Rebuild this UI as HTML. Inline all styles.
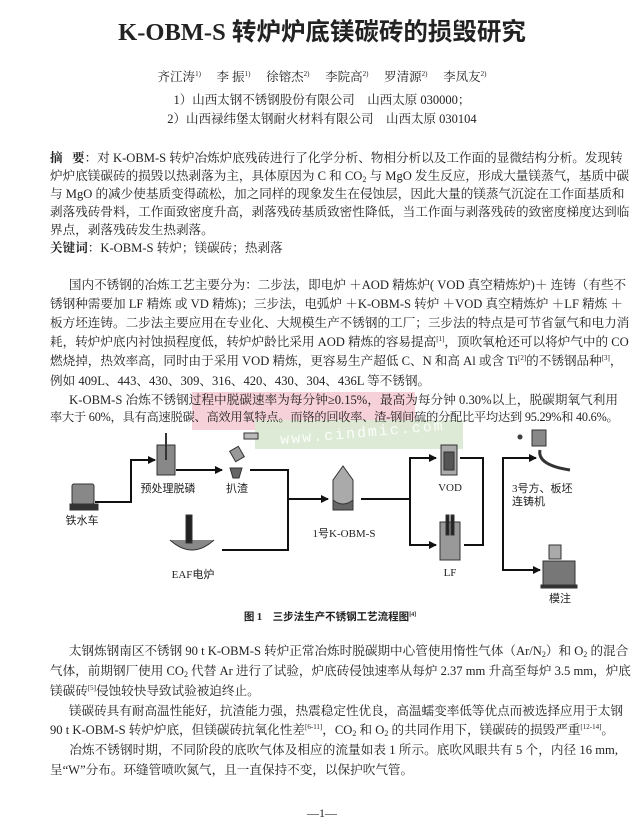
<!DOCTYPE html>
<html><head><meta charset="utf-8">
<style>
html,body{margin:0;padding:0;background:#fff;}
body{width:644px;height:831px;position:relative;overflow:hidden;font-family:"Liberation Serif","Noto Serif CJK SC","Noto Sans CJK SC",serif;color:#222;}
.a{position:absolute;white-space:nowrap;}
.l{position:absolute;left:50px;width:568px;font-size:12.6px;text-align:justify;text-align-last:justify;text-justify:inter-character;white-space:nowrap;overflow:visible;}
.l.e{text-align-last:left;}
sup{font-size:7px;vertical-align:5px;line-height:0;}
sub{font-size:8px;vertical-align:-2px;line-height:0;}
</style></head><body>
<div class="a" style="left:0;width:644px;text-align:center;top:13px;font-size:24.5px;font-weight:bold;font-family:'Liberation Serif','Noto Sans CJK SC',serif;">K-OBM-S 转炉炉底镁碳砖的损毁研究</div>
<div class="a" style="left:0;width:644px;text-align:center;top:67px;font-size:12.5px;">齐江涛<sup>1)</sup>&nbsp;&nbsp;&nbsp;&nbsp;&nbsp;李&nbsp;振<sup>1)</sup>&nbsp;&nbsp;&nbsp;&nbsp;&nbsp;徐镕杰<sup>2)</sup>&nbsp;&nbsp;&nbsp;&nbsp;&nbsp;李院高<sup>2)</sup>&nbsp;&nbsp;&nbsp;&nbsp;&nbsp;罗清源<sup>2)</sup>&nbsp;&nbsp;&nbsp;&nbsp;&nbsp;李凤友<sup>2)</sup></div>
<div class="a" style="left:0;width:644px;text-align:center;top:90px;font-size:12.5px;">1）山西太钢不锈钢股份有限公司&nbsp;&nbsp;&nbsp;&nbsp;山西太原&nbsp;030000；</div>
<div class="a" style="left:0;width:644px;text-align:center;top:109px;font-size:12.5px;">2）山西禄纬堡太钢耐火材料有限公司&nbsp;&nbsp;&nbsp;&nbsp;山西太原&nbsp;030104</div>

<div class="l" style="top:147px"><b>摘&nbsp;&nbsp;&nbsp;要</b>：对 K-OBM-S 转炉冶炼炉底残砖进行了化学分析、物相分析以及工作面的显微结构分析。发现转</div>
<div class="l" style="top:165px">炉炉底镁碳砖的损毁以热剥落为主，具体原因为 C 和 CO<sub>2</sub> 与 MgO 发生反应，形成大量镁蒸气，基质中碳</div>
<div class="l" style="top:183px">与 MgO 的减少使基质变得疏松，加之同样的现象发生在侵蚀层，因此大量的镁蒸气沉淀在工作面基质和</div>
<div class="l" style="top:201px">剥落残砖骨料，工作面致密度升高，剥落残砖基质致密性降低，当工作面与剥落残砖的致密度梯度达到临</div>
<div class="l e" style="top:219px">界点，剥落残砖发生热剥落。</div>
<div class="l e" style="top:237px"><b>关键词</b>：K-OBM-S 转炉；镁碳砖；热剥落</div>

<div class="a" style="left:192px;top:392px;width:223px;height:38px;background:#f6c9d2;opacity:.85"></div>
<div class="a" style="left:255px;top:420px;width:208px;height:29px;background:#d9e9d2;opacity:.9"></div>

<div class="l" style="top:274px">&nbsp;&nbsp;&nbsp;&nbsp;&nbsp;&nbsp;国内不锈钢的冶炼工艺主要分为：二步法，即电炉 ＋AOD 精炼炉( VOD 真空精炼炉)＋ 连铸（有些不</div>
<div class="l" style="top:293px">锈钢种需要加 LF 精炼 或 VD 精炼)；三步法，电弧炉 ＋K-OBM-S 转炉 ＋VOD 真空精炼炉 ＋LF 精炼 ＋</div>
<div class="l" style="top:312px">板方坯连铸。二步法主要应用在专业化、大规模生产不锈钢的工厂；三步法的特点是可节省氩气和电力消</div>
<div class="l" style="top:331px">耗，转炉炉底内衬蚀损程度低，转炉炉龄比采用 AOD 精炼的容易提高<sup>[1]</sup>，顶吹氧枪还可以将炉气中的 CO</div>
<div class="l" style="top:350px">燃烧掉，热效率高，同时由于采用 VOD 精炼，更容易生产超低 C、N 和高 Al 或含 Ti<sup>[2]</sup>的不锈钢品种<sup>[3]</sup>，</div>
<div class="l e" style="top:370px">例如 409L、443、430、309、316、420、430、304、436L 等不锈钢。</div>
<div class="l" style="top:389px">&nbsp;&nbsp;&nbsp;&nbsp;&nbsp;&nbsp;K-OBM-S 冶炼不锈钢过程中脱碳速率为每分钟≥0.15%，最高为每分钟 0.30%以上，脱碳期氧气利用</div>
<div class="l" style="top:408px;font-size:12.2px;letter-spacing:-0.2px">率大于 60%，具有高速脱碳、高效用氧特点。而铬的回收率、渣-钢间硫的分配比平均达到 95.29%和 40.6%。</div>
<div class="a" style="left:280px;top:425px;font-size:15px;color:#fff;font-family:'Liberation Mono',monospace;letter-spacing:2px;transform:rotate(-5deg);opacity:.9">www.cindmic.com</div>

<svg class="a" style="left:0;top:0" width="644" height="831" viewBox="0 0 644 831">
<defs><marker id="ar" markerWidth="8" markerHeight="8" refX="7" refY="4" orient="auto" markerUnits="userSpaceOnUse"><path d="M0,0L8,4L0,8z" fill="#111"/></marker></defs>
<g stroke="#111" stroke-width="2" fill="none">
<polyline points="95,502 131,502 131,460 155,460" marker-end="url(#ar)"/>
<line x1="176" y1="470" x2="222" y2="470" marker-end="url(#ar)"/>
<polyline points="250,470 288,470 288,550 222,550"/>
<line x1="288" y1="499" x2="328" y2="499" marker-end="url(#ar)"/>
<polyline points="361,499 410,499"/>
<polyline points="436,458 410,458 410,545 436,545" marker-end="url(#ar)"/>
<line x1="410" y1="458" x2="436" y2="458" marker-end="url(#ar)"/>
<polyline points="460,458 483,458 483,545 464,545"/>
<polyline points="536,458 503,458 503,570 540,570" marker-end="url(#ar)"/>
<line x1="503" y1="458" x2="536" y2="458" marker-end="url(#ar)"/>
</g>
<g fill="#777" stroke="#333" stroke-width="1">
<rect x="72" y="484" width="22" height="20" rx="2" fill="#888"/><rect x="70" y="504" width="28" height="6" fill="#333"/>
<rect x="157" y="445" width="18" height="30" fill="#888"/><line x1="166" y1="433" x2="166" y2="460" stroke-width="2"/>
<rect x="232" y="448" width="10" height="12" fill="#999" transform="rotate(-30 237 454)"/><rect x="244" y="433" width="14" height="6" fill="#bbb"/><path d="M230,468 h12 l-3,10 h-6z" fill="#666"/>
<path d="M170,540 q22,20 44,0" fill="#888"/><rect x="186" y="515" width="6" height="28" fill="#222"/>
<path d="M333,480 l10,-14 l10,14 v28 h-20z" fill="#aaa"/><path d="M333,500 q10,8 20,0 v10 h-20z" fill="#666"/>
<rect x="441" y="445" width="16" height="30" fill="#aaa"/><rect x="444" y="452" width="10" height="18" fill="#555"/>
<rect x="440" y="522" width="20" height="38" fill="#999"/><rect x="446" y="515" width="3" height="20" fill="#222"/><rect x="451" y="515" width="3" height="20" fill="#222"/>
<rect x="532" y="430" width="14" height="16" fill="#888"/><path d="M540,450 q-3,15 30,20" fill="none" stroke="#333" stroke-width="3"/><circle cx="520" cy="437" r="2" fill="#444"/>
<rect x="549" y="545" width="12" height="14" fill="#aaa"/><rect x="543" y="561" width="32" height="24" fill="#777"/><rect x="541" y="585" width="36" height="3" fill="#333"/>
</g>
<g font-size="11" fill="#222" font-family="'Liberation Serif','Noto Sans CJK SC',serif" text-anchor="middle">
<text x="82" y="524">铁水车</text>
<text x="168" y="492">预处理脱磷</text>
<text x="237" y="492">扒渣</text>
<text x="193" y="578">EAF电炉</text>
<text x="344" y="537">1号K-OBM-S</text>
<text x="450" y="491">VOD</text>
<text x="450" y="576">LF</text>
<text x="512" y="492" text-anchor="start">3号方、板坯</text>
<text x="512" y="505" text-anchor="start">连铸机</text>
<text x="560" y="602">模注</text>
</g>
<text x="330" y="620" font-size="10.5" font-weight="bold" text-anchor="middle" fill="#222" font-family="'Liberation Serif','Noto Sans CJK SC',serif">图 1　三步法生产不锈钢工艺流程图<tspan font-size="6" dy="-4">[4]</tspan></text>
</svg>

<div class="l" style="top:640px">&nbsp;&nbsp;&nbsp;&nbsp;&nbsp;&nbsp;太钢炼钢南区不锈钢 90 t K-OBM-S 转炉正常冶炼时脱碳期中心管使用惰性气体（Ar/N<sub>2</sub>）和 O<sub>2</sub> 的混合</div>
<div class="l" style="top:660px">气体，前期钢厂使用 CO<sub>2</sub> 代替 Ar 进行了试验，炉底砖侵蚀速率从每炉 2.37 mm 升高至每炉 3.5 mm，炉底</div>
<div class="l e" style="top:680px">镁碳砖<sup>[5]</sup>侵蚀较快导致试验被迫终止。</div>
<div class="l" style="top:700px">&nbsp;&nbsp;&nbsp;&nbsp;&nbsp;&nbsp;镁碳砖具有耐高温性能好，抗渣能力强，热震稳定性优良，高温蠕变率低等优点而被选择应用于太钢</div>
<div class="l e" style="top:719px">90 t K-OBM-S 转炉炉底，但镁碳砖抗氧化性差<sup>[6-11]</sup>，CO<sub>2</sub> 和 O<sub>2</sub> 的共同作用下，镁碳砖的损毁严重<sup>[12-14]</sup>。</div>
<div class="l" style="top:739px">&nbsp;&nbsp;&nbsp;&nbsp;&nbsp;&nbsp;冶炼不锈钢时期，不同阶段的底吹气体及相应的流量如表 1 所示。底吹风眼共有 5 个，内径 16 mm,</div>
<div class="l e" style="top:759px">呈“W”分布。环缝管喷吹氮气，且一直保持不变，以保护吹气管。</div>

<div class="a" style="left:0;width:644px;text-align:center;top:806px;font-size:12px;">—1—</div>
</body></html>
